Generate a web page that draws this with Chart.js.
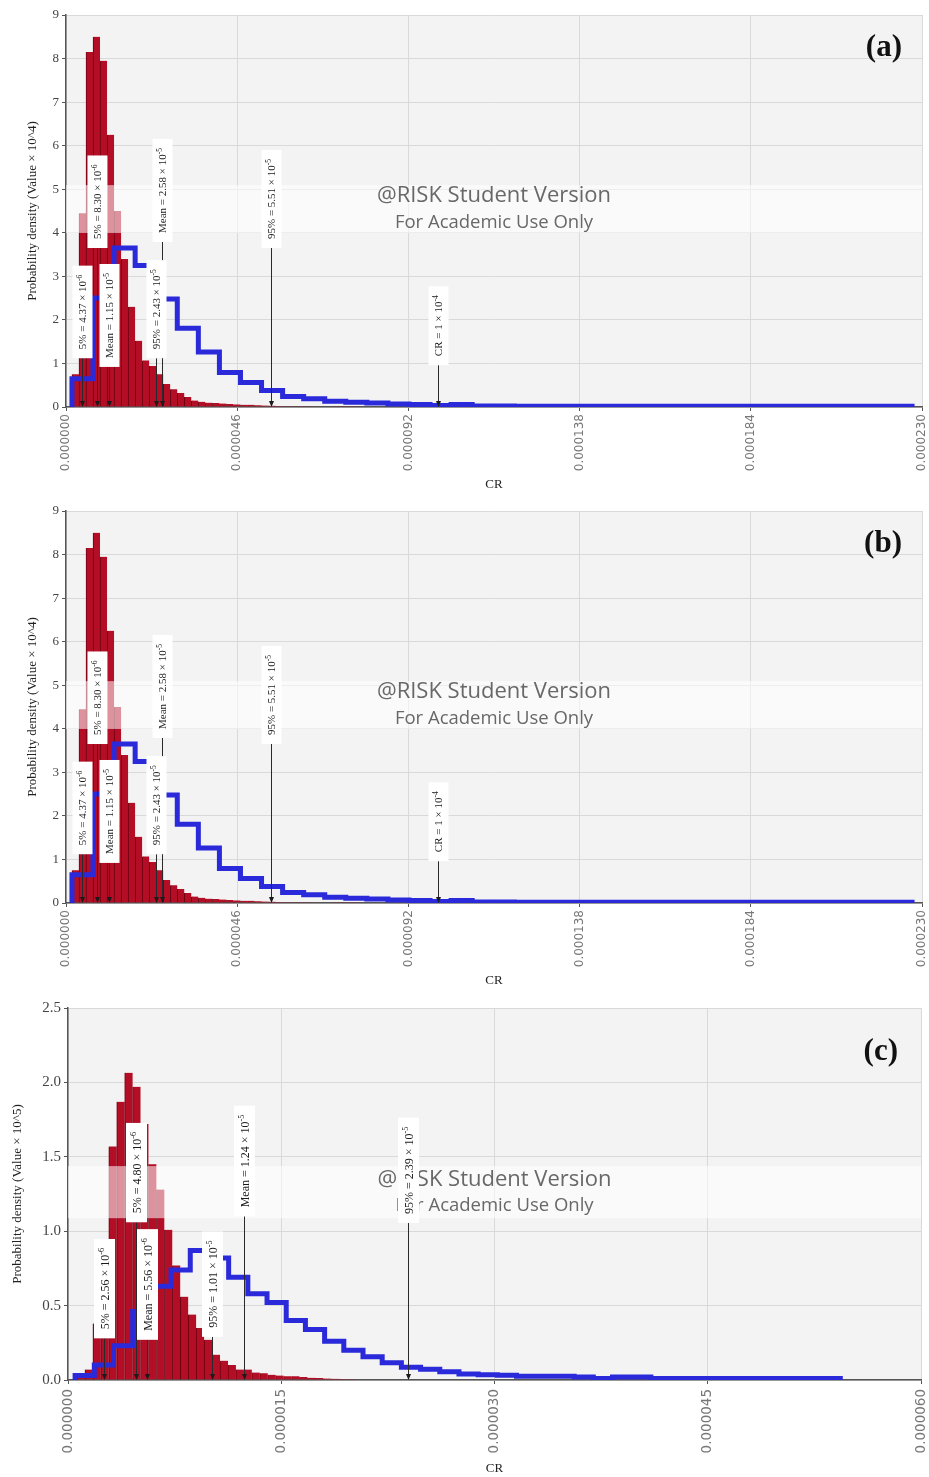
<!DOCTYPE html>
<html>
<head>
<meta charset="utf-8">
<script src="https://cdn.jsdelivr.net/npm/chart.js@4.4.1/dist/chart.umd.min.js"></script>
<style>
  body { margin: 0; background: #fff; }
  canvas { position: absolute; left: 0; }
</style>
</head>
<body>
<canvas id="chartA" width="929" height="496" style="top:0px"></canvas>
<canvas id="chartB" width="929" height="496" style="top:496px"></canvas>
<canvas id="chartC" width="929" height="485" style="top:992px"></canvas>
<script>
// ---- panels (a) and (b): same simulation output ----
const redStartAB = 1.6e-6;
const redWidthAB = 1.887e-6;
const redDensityAB = [0.75, 4.45, 8.15, 8.5, 7.95, 6.25, 4.5, 3.4, 2.3, 1.52, 1.07, 0.94, 0.75, 0.53,
  0.41, 0.32, 0.23, 0.15, 0.12, 0.1, 0.09, 0.08, 0.07, 0.06, 0.05, 0.05, 0.04, 0.035, 0.03, 0.025,
  0.02, 0.02, 0.015, 0.015, 0.01, 0.01, 0.01, 0.008, 0.006, 0.005, 0.004];
const blueStartAB = 1.6e-6;
const blueWidthAB = 5.66e-6;
const blueDensityAB = [0.65, 2.5, 3.65, 3.25, 2.48, 1.81, 1.26, 0.79, 0.56, 0.38, 0.24, 0.19, 0.13,
  0.11, 0.09, 0.07, 0.06, 0.035, 0.06, 0.025, 0.025, 0.02, 0.02, 0.02, 0.02, 0.02, 0.02, 0.02, 0.02,
  0.02, 0.02, 0.02, 0.02, 0.02, 0.02, 0.02, 0.02, 0.02, 0.02, 0.02];
const xTickValuesAB = [0, 0.000046, 0.000092, 0.000138, 0.000184, 0.000230];
const xTickLabelsAB = ['0.000000', '0.000046', '0.000092', '0.000138', '0.000184', '0.000230'];
const markerValuesAB = [4.37e-6, 8.30e-6, 1.15e-5, 2.43e-5, 2.58e-5, 5.51e-5, 1e-4];
const markerLabelsAB = ['5% = 4.37 × 10⁻⁶', '5% = 8.30 × 10⁻⁶', 'Mean = 1.15 × 10⁻⁵', '95% = 2.43 × 10⁻⁵',
  'Mean = 2.58 × 10⁻⁵', '95% = 5.51 × 10⁻⁵', 'CR = 1 × 10⁻⁴'];
const yTitleAB = 'Probability density (Value × 10^4)';

// ---- panel (c) ----
const redStartC = 0.633e-6;
const redWidthC = 0.559e-6;
const redDensityC = [0.03, 0.07, 0.38, 0.8, 1.57, 1.87, 2.065, 1.97, 1.72, 1.45, 1.28, 1.01, 0.77, 0.56,
  0.44, 0.35, 0.27, 0.17, 0.13, 0.1, 0.07, 0.07, 0.05, 0.045, 0.035, 0.03, 0.025, 0.025, 0.02, 0.015,
  0.013, 0.01, 0.008, 0.006, 0.005, 0.004];
const blueStartC = 0.5e-6;
const blueWidthC = 1.35e-6;
const blueDensityC = [0.03, 0.1, 0.23, 0.46, 0.63, 0.74, 0.87, 0.82, 0.69, 0.58, 0.52, 0.40, 0.34, 0.26,
  0.20, 0.157, 0.116, 0.085, 0.072, 0.056, 0.04, 0.035, 0.032, 0.025, 0.025, 0.025, 0.02, 0.01, 0.02,
  0.02, 0.01, 0.01, 0.01, 0.01, 0.01, 0.01, 0.01, 0.01, 0.01, 0.01];
const xTickValuesC = [0, 0.000015, 0.000030, 0.000045, 0.000060];
const xTickLabelsC = ['0.000000', '0.000015', '0.000030', '0.000045', '0.000060'];
const markerValuesC = [2.56e-6, 4.80e-6, 5.56e-6, 1.01e-5, 1.24e-5, 2.39e-5];
const markerLabelsC = ['5% = 2.56 × 10⁻⁶', '5% = 4.80 × 10⁻⁶', 'Mean = 5.56 × 10⁻⁶', '95% = 1.01 × 10⁻⁵',
  'Mean = 1.24 × 10⁻⁵', '95% = 2.39 × 10⁻⁵'];
const yTitleC = 'Probability density (Value × 10^5)';

const watermark = ['@RISK Student Version', 'For Academic Use Only'];

Chart.defaults.font.family = '"Liberation Serif", "Times New Roman", serif';
Chart.defaults.animation = false;

function histBars(start, width, dens) {
  return dens.map((v, i) => ({ x: start + (i + 0.5) * width, y: v }));
}

function stepLine(start, width, dens) {
  const pts = [{ x: start, y: 0 }];
  dens.forEach((v, i) => pts.push({ x: start + i * width, y: v }));
  pts.push({ x: start + dens.length * width, y: dens[dens.length - 1] });
  return pts;
}

const SUP = { '⁻': '-', '⁰': '0', '¹': '1', '²': '2', '³': '3', '⁴': '4', '⁵': '5', '⁶': '6', '⁷': '7', '⁸': '8', '⁹': '9' };
function splitRuns(text) {
  const runs = [];
  for (const ch of text) {
    const sup = ch in SUP;
    const t = sup ? SUP[ch] : ch;
    const last = runs[runs.length - 1];
    if (last && last.sup === sup) last.t += t; else runs.push({ t, sup });
  }
  return runs;
}

const overlay = {
  id: 'overlay',
  beforeDraw(chart, args, o) {
    const { ctx, chartArea: ca } = chart;
    ctx.save();
    ctx.fillStyle = '#f3f3f3';
    ctx.fillRect(ca.left, ca.top, ca.right - ca.left, ca.bottom - ca.top);
    ctx.restore();
  },
  afterDatasetsDraw(chart, args, o) {
    const { ctx, chartArea: ca, scales: { x, y } } = chart;
    const h = ca.bottom - ca.top;
    ctx.save();
    // watermark band
    ctx.fillStyle = 'rgba(255,255,255,0.55)';
    const bt = ca.top + o.band[0] * h, bb = ca.top + o.band[1] * h;
    ctx.fillRect(ca.left, bt, ca.right - ca.left, bb - bt);
    ctx.fillStyle = '#686868';
    ctx.textAlign = 'center';
    ctx.textBaseline = 'middle';
    const cx = (ca.left + ca.right) / 2;
    ctx.font = '22px "Open Sans", sans-serif';
    ctx.fillText(watermark[0], cx, ca.top + o.wm[0] * h);
    ctx.font = '18.5px "Open Sans", sans-serif';
    ctx.fillText(watermark[1], cx, ca.top + o.wm[1] * h);

    // marker lines + arrowheads
    const fs = o.fontSize;
    const base = fs + 'px "Liberation Serif", serif';
    const supf = (fs * 0.68).toFixed(1) + 'px "Liberation Serif", serif';
    const boxes = o.values.map((v, i) => {
      const px = Math.round(x.getPixelForValue(v)) + 0.5;
      const runs = splitRuns(o.labels[i]);
      let w = 0;
      runs.forEach(r => { ctx.font = r.sup ? supf : base; r.w = ctx.measureText(r.t).width; w += r.w; });
      const bottom = y.getPixelForValue(o.bottoms[i]);
      const bh = w + 2 * o.pad;
      return { px, runs, w, bottom, top: bottom - bh };
    });
    ctx.strokeStyle = '#2a2a2a';
    ctx.fillStyle = '#1a1a1a';
    ctx.lineWidth = 1;
    boxes.forEach(b => {
      ctx.beginPath();
      ctx.moveTo(b.px, b.bottom);
      ctx.lineTo(b.px, ca.bottom - 5);
      ctx.stroke();
      ctx.beginPath();
      ctx.moveTo(b.px - 2.5, ca.bottom - 6);
      ctx.lineTo(b.px + 2.5, ca.bottom - 6);
      ctx.lineTo(b.px, ca.bottom);
      ctx.closePath();
      ctx.fill();
    });
    // label boxes
    const bw = fs + 9;
    boxes.forEach(b => {
      ctx.fillStyle = '#ffffff';
      ctx.fillRect(b.px - bw / 2, b.top, bw, b.bottom - b.top);
      ctx.save();
      ctx.translate(b.px, (b.top + b.bottom) / 2);
      ctx.rotate(-Math.PI / 2);
      ctx.fillStyle = '#1a1a1a';
      ctx.textAlign = 'left';
      ctx.textBaseline = 'alphabetic';
      let tx = -b.w / 2;
      b.runs.forEach(r => {
        ctx.font = r.sup ? supf : base;
        ctx.fillText(r.t, tx, r.sup ? -fs * 0.08 : fs * 0.35);
        tx += r.w;
      });
      ctx.restore();
    });
    ctx.restore();
  },
  afterDraw(chart, args, o) {
    const { ctx, chartArea: ca } = chart;
    ctx.save();
    ctx.fillStyle = '#111';
    ctx.font = 'bold 31px "Liberation Serif", serif';
    ctx.textAlign = 'right';
    ctx.textBaseline = 'alphabetic';
    ctx.fillText(o.letter, ca.right - o.letterPos[0], ca.top + o.letterPos[1]);
    ctx.restore();
  }
};

function makePanel(id, p) {
  new Chart(document.getElementById(id), {
    type: 'bar',
    data: {
      datasets: [
        {
          type: 'line',
          data: stepLine(p.blue[0], p.blue[1], p.blue[2]),
          stepped: true,
          borderColor: 'rgb(42, 42, 218)',
          borderWidth: 5,
          borderJoinStyle: 'miter',
          pointRadius: 0,
          fill: false,
          order: 0
        },
        {
          type: 'bar',
          data: histBars(p.red[0], p.red[1], p.red[2]),
          backgroundColor: 'rgb(180, 14, 38)',
          borderColor: 'rgb(110, 0, 16)',
          borderWidth: { left: 1, right: 0, top: 0, bottom: 0 },
          borderSkipped: false,
          barPercentage: 1,
          categoryPercentage: 1,
          order: 1
        }
      ]
    },
    options: {
      responsive: false,
      devicePixelRatio: 1,
      layout: { padding: { left: 0, top: p.padTop, right: p.padRight, bottom: 0 } },
      plugins: {
        legend: { display: false },
        tooltip: { enabled: false },
        overlay: {
          band: p.band, wm: p.wm, values: p.markers, labels: p.markerText,
          bottoms: p.bottoms, fontSize: p.labelSize, pad: 9,
          letter: p.letter, letterPos: p.letterPos
        }
      },
      scales: {
        x: {
          type: 'linear',
          min: 0,
          max: p.xMax,
          offset: false,
          afterBuildTicks: s => { s.ticks = p.xTicks.map(v => ({ value: v })); },
          afterFit: s => { s.height = p.xAxisH; s.paddingLeft = 0; s.paddingRight = 0; },
          ticks: {
            autoSkip: false, minRotation: 90, maxRotation: 90, padding: p.xTickPad,
            color: '#777', font: { family: '"DejaVu Sans", sans-serif', size: p.xTickSize },
            callback: (v, i) => p.xLabels[i]
          },
          grid: { color: '#d9d9d9', tickColor: '#555', tickLength: 4, offset: false },
          border: { color: '#555', width: 1.5 },
          title: {
            display: true, text: 'CR', color: '#222',
            font: { size: 13 }, padding: { top: 0, bottom: p.xTitlePad }
          }
        },
        y: {
          min: 0,
          max: p.yMax,
          afterFit: s => { s.width = p.yAxisW; s.paddingTop = 0; s.paddingBottom = 0; },
          ticks: {
            stepSize: p.yStep, padding: 3, color: '#444',
            font: { size: p.yTickSize },
            callback: v => v.toFixed(p.yDec)
          },
          grid: { color: '#d9d9d9', tickColor: '#555', tickLength: 4 },
          border: { color: '#555', width: 1.5 },
          title: {
            display: true, text: p.yTitle, color: '#222',
            font: { size: 13 }, padding: { top: p.yTitlePad, bottom: 0 }
          }
        }
      }
    },
    plugins: [overlay]
  });
}

const layoutAB = {
  xMax: 0.00023, yMax: 9, yStep: 1, yDec: 0,
  padTop: 15, padRight: 7, yAxisW: 66, xAxisH: 89,
  xTickPad: 3, xTickSize: 12, yTickSize: 13, xTitlePad: 4, yTitlePad: 25,
  band: [0.434, 0.556], wm: [0.462, 0.530],
  bottoms: [1.12, 3.65, 0.92, 1.12, 3.79, 3.65, 0.96],
  labelSize: 11, letterPos: [20, 41]
};

makePanel('chartA', Object.assign({}, layoutAB, {
  letter: '(a)',
  red: [redStartAB, redWidthAB, redDensityAB], blue: [blueStartAB, blueWidthAB, blueDensityAB],
  xTicks: xTickValuesAB, xLabels: xTickLabelsAB, yTitle: yTitleAB,
  markers: markerValuesAB, markerText: markerLabelsAB
}));

makePanel('chartB', Object.assign({}, layoutAB, {
  letter: '(b)',
  red: [redStartAB, redWidthAB, redDensityAB], blue: [blueStartAB, blueWidthAB, blueDensityAB],
  xTicks: xTickValuesAB, xLabels: xTickLabelsAB, yTitle: yTitleAB,
  markers: markerValuesAB, markerText: markerLabelsAB
}));

makePanel('chartC', {
  letter: '(c)',
  red: [redStartC, redWidthC, redDensityC], blue: [blueStartC, blueWidthC, blueDensityC],
  xTicks: xTickValuesC, xLabels: xTickLabelsC, yTitle: yTitleC,
  markers: markerValuesC, markerText: markerLabelsC,
  xMax: 0.00006, yMax: 2.5, yStep: 0.5, yDec: 1,
  padTop: 16, padRight: 8, yAxisW: 68, xAxisH: 97,
  xTickPad: 5, xTickSize: 13.5, yTickSize: 15, xTitlePad: 1, yTitlePad: 10,
  band: [0.425, 0.565], wm: [0.462, 0.532],
  bottoms: [0.28, 1.06, 0.27, 0.29, 1.10, 1.055],
  labelSize: 12, letterPos: [23, 52]
});
</script>
</body>
</html>
